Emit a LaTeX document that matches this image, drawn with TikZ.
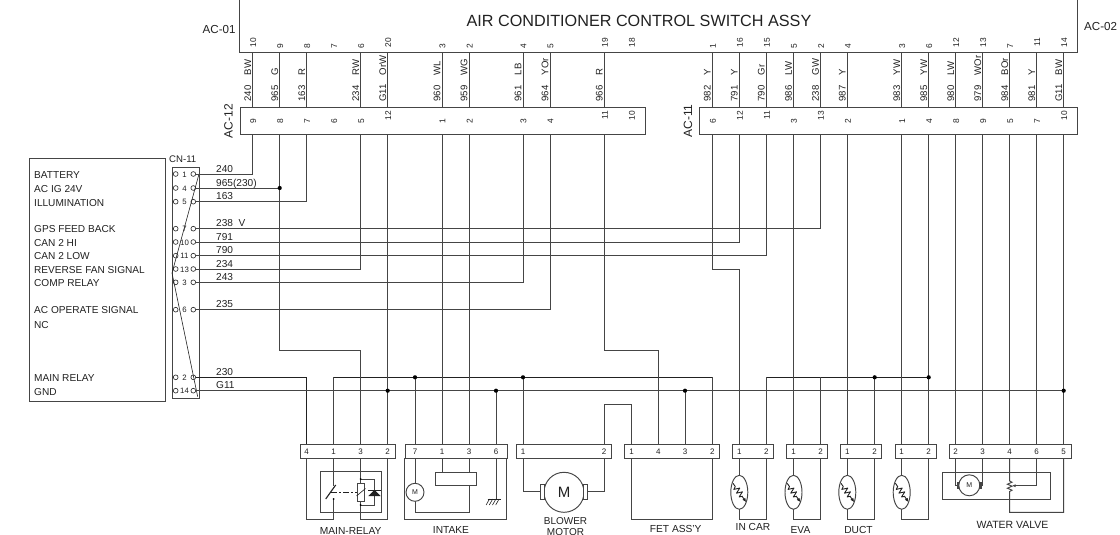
\documentclass[tikz,border=0pt]{standalone}
\usepackage{fontspec}
\setmainfont{Liberation Sans}
\usetikzlibrary{arrows.meta}
\definecolor{ink}{gray}{0.13}
\definecolor{wire}{gray}{0.27}
\newcommand{\fs}[1]{\fontsize{#1}{#1}\selectfont}
\tikzset{
  wireline/.style={draw=wire,line width=0.95pt,line join=miter},
  thinwire/.style={draw=ink,line width=0.7pt},
  boxline/.style={draw=wire,line width=0.95pt},
  connbox/.style={draw=wire,line width=0.95pt,fill=white,inner sep=0pt,anchor=north west},
  txt/.style={inner sep=0pt,text=ink,anchor=base west,font=\fs{10.1}},
  pinnum/.style={inner sep=0pt,text=ink,font=\fs{7.8}},
  vpin/.style={inner sep=0pt,text=ink,font=\fs{8.4},rotate=90},
  vlab/.style={inner sep=0pt,text=ink,font=\fs{9.6},rotate=90,anchor=base west},
  captxt/.style={inner sep=0pt,text=ink,font=\fs{10.2},align=center},
  jdot/.style={fill=black,draw=none},
  pinhole/.style={circle,draw=ink,line width=0.6pt,fill=white,inner sep=0pt,minimum size=4.8pt},
  therm/.pic={
    \draw[wireline] (0,0) ellipse [x radius=8.5,y radius=17];
    \begin{scope}[rotate=-55]
      \draw[draw=ink,line width=0.9pt,line join=round] (-11,0)--(-7,0)--(-5.5,2.8)--(-3.2,-2.8)--(-0.9,2.8)--(1.4,-2.8)--(3.7,2.8)--(5,0);
      \draw[draw=ink,line width=0.9pt,-{Latex[length=4pt,width=3.5pt]}] (4.5,0)--(12,0);
    \end{scope}
  }
}
\begin{document}
\begin{tikzpicture}[x=1pt,y=-1pt]
\useasboundingbox (0,0) rectangle (1120,535);
\fill[white] (0,0) rectangle (1120,535);

% switch body
\coordinate (swTL) at (239.5,-3);
\coordinate (swBL) at (239.5,52.7);
\coordinate (swBR) at (1077.3,52.7);
\coordinate (swTR) at (1077.3,-3);
\draw[boxline] (swTL)--(swBL)--(swBR)--(swTR);
\node[inner sep=0pt,text=ink,font=\fs{16.2}] (title) at (639,21) {AIR CONDITIONER CONTROL SWITCH ASSY};
\node[txt,font=\fs{11.6}] (ac01) at (202.5,33.7) {AC-01};
\node[txt,font=\fs{11.6}] (ac02) at (1084,31) {AC-02};

% in-line connectors
\node[connbox,minimum width=405.2pt,minimum height=27.3pt] (ac12box) at (239.5,107) {};
\node[connbox,minimum width=378.6pt,minimum height=27.3pt] (ac11box) at (698.7,107) {};
\node[inner sep=0pt,text=ink,font=\fs{12},rotate=90] (ac12) at (228.5,121) {AC-12};
\node[inner sep=0pt,text=ink,font=\fs{12},rotate=90] (ac11) at (688,121) {AC-11};

% left column: index / x / pin on switch / pin on connector
\foreach \k/\x/\t/\m in {1/252.7/10/9,2/279.7/9/8,3/306.7/8/7,4/333.7/7/6,5/360.7/6/5,6/387.7/20/12,7/442/3/1,8/469/2/2,9/523/4/3,10/550/5/4,11/604.3/19/11,12/631.3/18/10}{
  \coordinate (LU\k) at (\x,52.7);
  \coordinate (LD\k) at (\x,107);
  \coordinate (LB\k) at (\x,134.3);
  \pgfmathsetmacro{\ty}{\t>9?42.5:46.5}
  \pgfmathsetmacro{\my}{\m>9?115.5:120.7}
  \node[vpin] (Ltn\k) at (\x+0.6,\ty) {\t};
  \node[vpin] (Lmn\k) at (\x+0.6,\my) {\m};
}
% right column
\foreach \k/\x/\t/\m in {1/712.3/1/6,2/739.3/16/12,3/766.3/15/11,4/793.5/5/3,5/820.5/2/13,6/847.3/4/2,7/901.7/3/1,8/928.7/6/4,9/955.7/12/8,10/982.7/13/9,11/1009.7/7/5,12/1036.7/11/7,13/1063.7/14/10}{
  \coordinate (RU\k) at (\x,52.7);
  \coordinate (RD\k) at (\x,107);
  \coordinate (RB\k) at (\x,134.3);
  \pgfmathsetmacro{\ty}{\t>9?42.5:46.5}
  \pgfmathsetmacro{\my}{\m>9?115.5:120.7}
  \node[vpin] (Rtn\k) at (\x+0.6,\ty) {\t};
  \node[vpin] (Rmn\k) at (\x+0.6,\my) {\m};
}
% wires between switch and connector, with colour and number
\foreach \k/\x/\c/\w in {1/252.7/BW/240,2/279.7/G/965,3/306.7/R/163,5/360.7/RW/234,6/387.7/OrW/G11,7/442/WL/960,8/469/WG/959,9/523/LB/961,10/550/YOr/964,11/604.3/R/966}{
  \draw[wireline] (LU\k)--(LD\k);
  \node[vlab] (Lc\k) at (\x-1.7,75.3) {\c};
  \node[vlab] (Lw\k) at (\x-1.7,101.8) {\w};
}
\foreach \k/\x/\c/\w in {1/712.3/Y/982,2/739.3/Y/791,3/766.3/Gr/790,4/793.5/LW/986,5/820.5/GW/238,6/847.3/Y/987,7/901.7/YW/983,8/928.7/YW/985,9/955.7/LW/980,10/982.7/WOr/979,11/1009.7/BOr/984,12/1036.7/Y/981,13/1063.7/BW/G11}{
  \draw[wireline] (RU\k)--(RD\k);
  \node[vlab] (Rc\k) at (\x-1.7,75.3) {\c};
  \node[vlab] (Rw\k) at (\x-1.7,101.8) {\w};
}

% panel on the left
\node[draw=wire,line width=0.95pt,inner sep=0pt,minimum width=136pt,minimum height=243pt,anchor=north west] (panel) at (29.3,158) {};
\node[draw=wire,line width=0.95pt,inner sep=0pt,minimum width=27pt,minimum height=230.7pt,anchor=north west] (cn) at (171.7,167.3) {};
\node[txt,font=\fs{9.6}] (cnlabel) at (169,162.8) {CN-11};
\foreach \n/\y/\t in {a/178.8/BATTERY,b/192.6/AC IG 24V,c/206.2/ILLUMINATION,d/232.9/GPS FEED BACK,e/246.6/CAN 2 HI,f/259.9/CAN 2 LOW,g/273.6/REVERSE FAN SIGNAL,h/286.9/COMP RELAY,i/313.9/AC OPERATE SIGNAL,j/328.2/NC,k/381.9/MAIN RELAY,l/395.2/GND}{
  \node[txt] (lab\n) at (34,\y) {\t};
}
% row coordinates and wire numbers
\foreach \n/\y/\p/\w in {240/174/1/240,965/188/4/965(230),163/201.7/5/163,238/228.7/7/238\ \ V,791/242/10/791,790/255.7/11/790,234/269/13/234,243/282.3/3/243,235/309.7/6/235,230/377.3/2/230,G11/390.7/14/G11}{
  \coordinate (R\n) at (195.5,\y);
  \node[pinhole] (hl\n) at (175.7,\y) {};
  \node[pinhole] (hr\n) at (193.3,\y) {};
  \node[pinnum] (pn\n) at (184.5,\y+0.4) {\p};
  \node[txt] (wn\n) at (216,\y-2) {\w};
}
% CN-11 cross line
\coordinate (crA) at (199,174);
\coordinate (crB) at (172,273);
\coordinate (crC) at (197.7,396.7);
\draw[draw=ink,line width=0.6pt] (crA)--(crB)--(crC);

% level coordinates
\coordinate (y350) at (0,350.3);
\coordinate (y404) at (0,404);
\coordinate (y269) at (0,269);
\coordinate (bot) at (0,458.3);

% bottom connectors
\node[connbox,minimum width=95.3pt,minimum height=14pt] (mconn) at (299.7,444.3) {};
\node[connbox,minimum width=102pt,minimum height=14pt] (iconn) at (404.7,444.3) {};
\node[connbox,minimum width=95pt,minimum height=14pt] (bconn) at (516,444.3) {};
\node[connbox,minimum width=95pt,minimum height=14pt] (fconn) at (624.3,444.3) {};
\node[connbox,minimum width=41pt,minimum height=14pt] (cconn) at (732.3,444.3) {};
\node[connbox,minimum width=41pt,minimum height=14pt] (econn) at (786.3,444.3) {};
\node[connbox,minimum width=41pt,minimum height=14pt] (dconn) at (840.3,444.3) {};
\node[connbox,minimum width=41pt,minimum height=14pt] (sconn) at (894.7,444.3) {};
\node[connbox,minimum width=121.7pt,minimum height=14pt] (wconn) at (949,444.3) {};
\foreach \n/\x/\t in {M4/306.7/4,M1/333.7/1,M3/360.7/3,M2/387.7/2,I7/415/7,I1/442/1,I3/469/3,I6/496/6,B1/523/1,B2/604/2,F1/631.5/1,F4/658.3/4,F3/685/3,F2/712.3/2,C1/739.3/1,C2/766.3/2,E1/793.5/1,E2/820.5/2,D1/847.3/1,D2/874.7/2,S1/901.7/1,S2/928.7/2,W2/955.7/2,W3/982.7/3,W4/1009.7/4,W6/1036.7/6,W5/1063.7/5}{
  \coordinate (\n) at (\x,444.3);
  \node[pinnum,font=\fs{8}] (t\n) at (\x,451.8) {\t};
}

% wires from CN-11 upward
\draw[wireline] (R240) -| (LB1);
\draw[wireline] (R965) -- (LB2 |- R965);
\draw[wireline] (R163) -| (LB3);
\draw[wireline] (R238) -| (RB5);
\draw[wireline] (R791) -| (RB2);
\draw[wireline] (R790) -| (RB3);
\draw[wireline] (R234) -| (LB5);
\draw[wireline] (R243) -| (LB9);
\draw[wireline] (R235) -| (LB10);
% main rails
\draw[thinwire] (R230) -| (M4);
\draw[wireline] (RG11) -- (RB13 |- RG11);
\draw[thinwire] (M1 |- R230) -- (F2 |- R230);
\draw[wireline] (M1 |- R230) -- (M1);
\draw[wireline] (F2 |- R230) -- (F2);
\draw[thinwire] (C2 |- R230) -- (S2 |- R230);
\draw[wireline] (C2 |- R230) -- (C2);
\draw[wireline] (E2 |- R230) -- (E2);
\draw[wireline] (D2 |- R230) -- (D2);
% other descents
\draw[wireline] (LB2) -- (LB2 |- y350) -- (M3 |- y350) -- (M3);
\draw[wireline] (LB6) -- (M2);
\draw[wireline] (LB7) -- (I1);
\draw[wireline] (LB8) -- (I3);
\draw[wireline] (I7 |- R230) -- (I7);
\draw[wireline] (I6 |- RG11) -- (I6);
\draw[wireline] (B1 |- R230) -- (B1);
\draw[wireline] (LB11) -- (LB11 |- y350) -- (F4 |- y350) -- (F4);
\draw[wireline] (B2) -- (B2 |- y404) -- (F1 |- y404) -- (F1);
\draw[wireline] (F3 |- RG11) -- (F3);
\draw[wireline] (RB1) -- (RB1 |- y269) -- (C1 |- y269) -- (C1);
\draw[wireline] (RB4) -- (E1);
\draw[wireline] (RB6) -- (D1);
\draw[wireline] (RB7) -- (S1);
\draw[wireline] (RB8) -- (S2);
\draw[wireline] (RB9) -- (W2);
\draw[wireline] (RB10) -- (W3);
\draw[wireline] (RB11) -- (W4);
\draw[wireline] (RB12) -- (W6);
\draw[wireline] (RB13) -- (W5);
% junction dots
\foreach \a/\b in {LB2/R965,I7/R230,B1/R230,D2/R230,S2/R230,LB6/RG11,I6/RG11,F3/RG11,RB13/RG11}{
  \fill[jdot] (\a |- \b) circle (2.1);
}

% MAIN-RELAY
\draw[boxline] (320.3,471.7) rectangle (381.7,512.3);
\draw[wireline] (M4 |- bot) -- (306.7,519) -- (333.7,519) -- (333.7,499);
\draw[wireline] (M1 |- bot) -- (333.7,486);
\draw[draw=ink,line width=1.1pt] (325.7,499) -- (335.7,485);
\fill[jdot] (333.7,499) circle (1);
\draw[draw=ink,line width=0.7pt,dash pattern=on 6pt off 2pt on 2pt off 2pt] (331,492.3) -- (357.7,492.3);
\draw[wireline] (M3 |- bot) -- (360.7,483.3);
\draw[wireline] (360.7,501.7) -- (360.7,519) -- (387.7,519) -- (M2 |- bot);
\draw[boxline,fill=white] (357.7,483.3) rectangle (364.3,501.7);
\draw[draw=ink,line width=0.6pt] (356.5,496) -- (365.5,488.5);
\draw[wireline] (360.7,479) -- (374.3,479) -- (374.3,505) -- (360.7,505);
\fill[jdot] (360.7,479) circle (1);
\fill[jdot] (360.7,505) circle (1);
\fill[ink] (368.3,496) -- (380.7,496) -- (374.5,490) -- cycle;
\draw[draw=ink,line width=0.8pt] (368.3,490) -- (380.7,490);
\node[captxt] (capM) at (350.7,530.5) {MAIN-RELAY};

% INTAKE
\draw[boxline] (404.7,458.3) -- (404.7,519) -- (506.7,519) -- (506.7,458.3);
\draw[wireline] (I7 |- bot) -- (415,512.3) -- (469,512.3) -- (469,485.3);
\draw[wireline] (I1 |- bot) -- (442,472);
\draw[wireline] (I3 |- bot) -- (469,472);
\draw[boxline,fill=white] (435,472) rectangle (476,485.3);
\node[circle,draw=wire,line width=0.95pt,fill=white,inner sep=0pt,minimum size=18pt,text=ink,font=\fs{7}] (imotor) at (415,492.3) {M};
\draw[wireline] (I6 |- bot) -- (496,499);
\draw[draw=ink,line width=0.6pt] (487.5,499) -- (500.7,499);
\foreach \d in {489.5,492.7,495.9,499.1}{\draw[draw=ink,line width=0.6pt] (\d,499) -- (\d-3.4,505);}
\node[captxt] (capI) at (451,529.5) {INTAKE};

% BLOWER MOTOR
\node[circle,draw=wire,line width=0.95pt,fill=white,inner sep=0pt,minimum size=40pt,text=ink,font=\fs{15}] (bmotor) at (564,492.3) {M};
\draw[wireline] (B1 |- bot) -- (523,491.7) -- (540,491.7);
\draw[wireline] (B2 |- bot) -- (604,491.7) -- (587.7,491.7);
\draw[boxline,fill=white] (540,484.5) rectangle (544.3,499);
\draw[boxline,fill=white] (583.3,484.5) rectangle (587.7,499);
\node[captxt,font=\fs{10}] (capB) at (565.5,526.3) {BLOWER\\[0.6pt]MOTOR};

% FET ASS'Y
\draw[wireline] (F1 |- bot) -- (631.5,519) -- (712.3,519) -- (F2 |- bot);
\node[captxt] (capF) at (675.7,528.5) {FET ASS'Y};

% thermistors
\foreach \a/\b in {C1/C2,E1/E2,D1/D2,S1/S2}{
  \draw[wireline] (\a |- bot) -- (\a |- 0,475.3);
  \draw[wireline] (\a |- 0,509.3) -- (\a |- 0,519) -- (\b |- 0,519) -- (\b |- bot);
  \path (\a |- 0,492.3) pic {therm};
}
\node[captxt] (capC) at (753,527.3) {IN CAR};
\node[captxt] (capE) at (800.5,529.5) {EVA};
\node[captxt] (capD) at (858.5,529.5) {DUCT};

% WATER VALVE
\draw[boxline] (942,472) rectangle (1050.7,499);
\node[circle,draw=wire,line width=0.95pt,fill=white,inner sep=0pt,minimum size=21pt,text=ink,font=\fs{7}] (wmotor) at (969.3,485.3) {M};
\draw[wireline] (W2 |- bot) -- (955.7,485.3) -- (957,485.3);
\draw[wireline] (W3 |- bot) -- (982.7,485.3) -- (981.5,485.3);
\fill[wire] (956.5,481.5) rectangle (959.3,489);
\fill[wire] (979.3,481.5) rectangle (982.1,489);
\draw[wireline] (W4 |- bot) -- (1009.7,481) -- (1012,482.2) -- (1007.4,484.2) -- (1012,486.2) -- (1007.4,488.2) -- (1012,490.2) -- (1009.7,491.5) -- (1009.7,512.3) -- (1063.7,512.3) -- (W5 |- bot);
\draw[wireline,-{Latex[length=3.5pt,width=3pt]}] (W6 |- bot) -- (1036.7,485.7) -- (1012,485.7);
\node[captxt,font=\fs{10.5}] (capW) at (1012.5,525.3) {WATER VALVE};
\end{tikzpicture}
\end{document}
